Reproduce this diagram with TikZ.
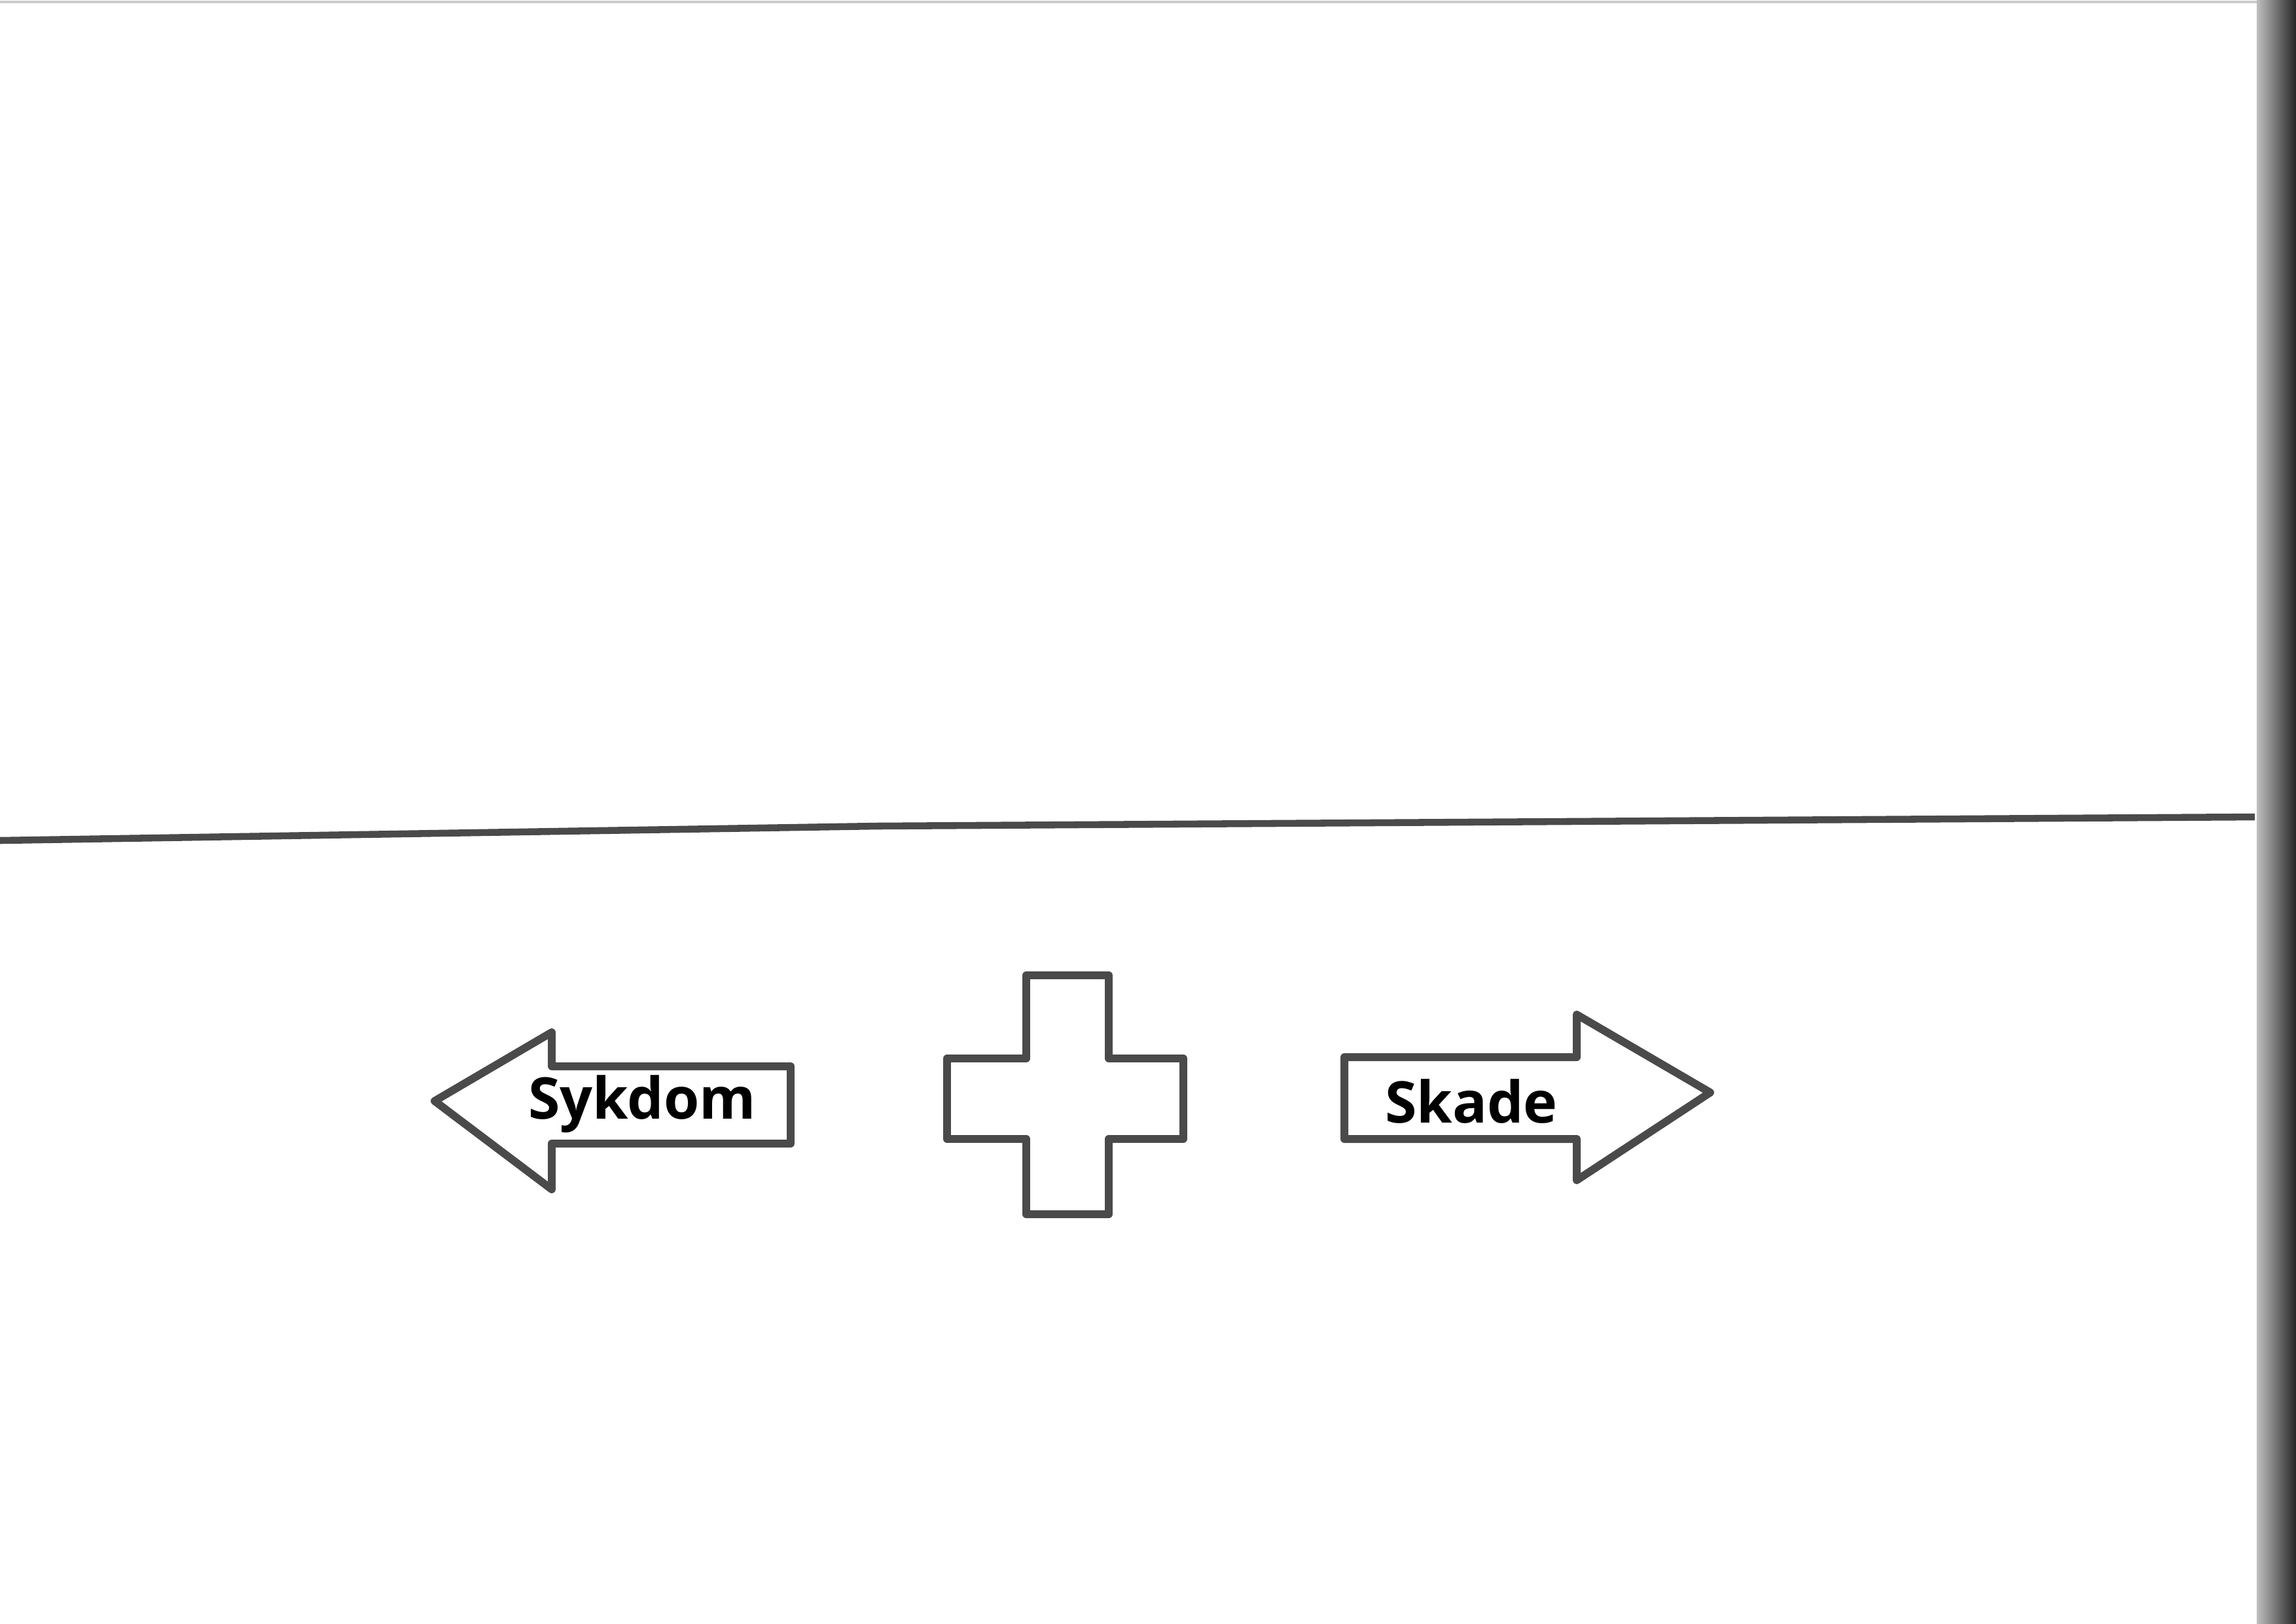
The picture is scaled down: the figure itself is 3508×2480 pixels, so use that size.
\documentclass[tikz,border=0pt]{standalone}
\usepackage{fontspec}
\setmainfont{Open Sans}
\definecolor{pen}{HTML}{4A4A4A}
\tikzset{
    marker/.style={draw=pen, line width=3.4pt, line join=round, line cap=round},
    label/.style={font=\fontsize{25}{28}\selectfont\bfseries, inner sep=0pt}
}
\begin{document}
\begin{tikzpicture}[x=0.01cm, y=-0.01cm]
            \useasboundingbox (0,0) rectangle (3508,2480);

            % scanner edge
            \shade[left color=black!25, right color=black!85] (3448,0) rectangle (3508,2480);
            \draw[black!20, line width=1pt] (0,3) -- (3448,3);

            % dividing line
            \draw[draw=pen, line width=3pt] (0,1284) -- (1340,1262) -- (3445,1248);

            % left arrow
            \draw[marker] (664,1682) -- (843,1577) -- (843,1629) -- (1208,1629)
                -- (1208,1747) -- (843,1747) -- (843,1817) -- cycle;
            \node[label] (sykdom) at (981,1687) {Sykdom};

            % cross
            \draw[marker] (1568,1490) -- (1694,1490) -- (1694,1617) -- (1808,1617)
                -- (1808,1740) -- (1694,1740) -- (1694,1855) -- (1568,1855)
                -- (1568,1740) -- (1447,1740) -- (1447,1617) -- (1568,1617) -- cycle;

            % right arrow
            \draw[marker] (2054,1615) -- (2409,1615) -- (2409,1550) -- (2613,1669)
                -- (2409,1803) -- (2409,1740) -- (2054,1740) -- cycle;
            \node[label] (skade) at (2248,1682) {Skade};

        \end{tikzpicture}
\end{document}
